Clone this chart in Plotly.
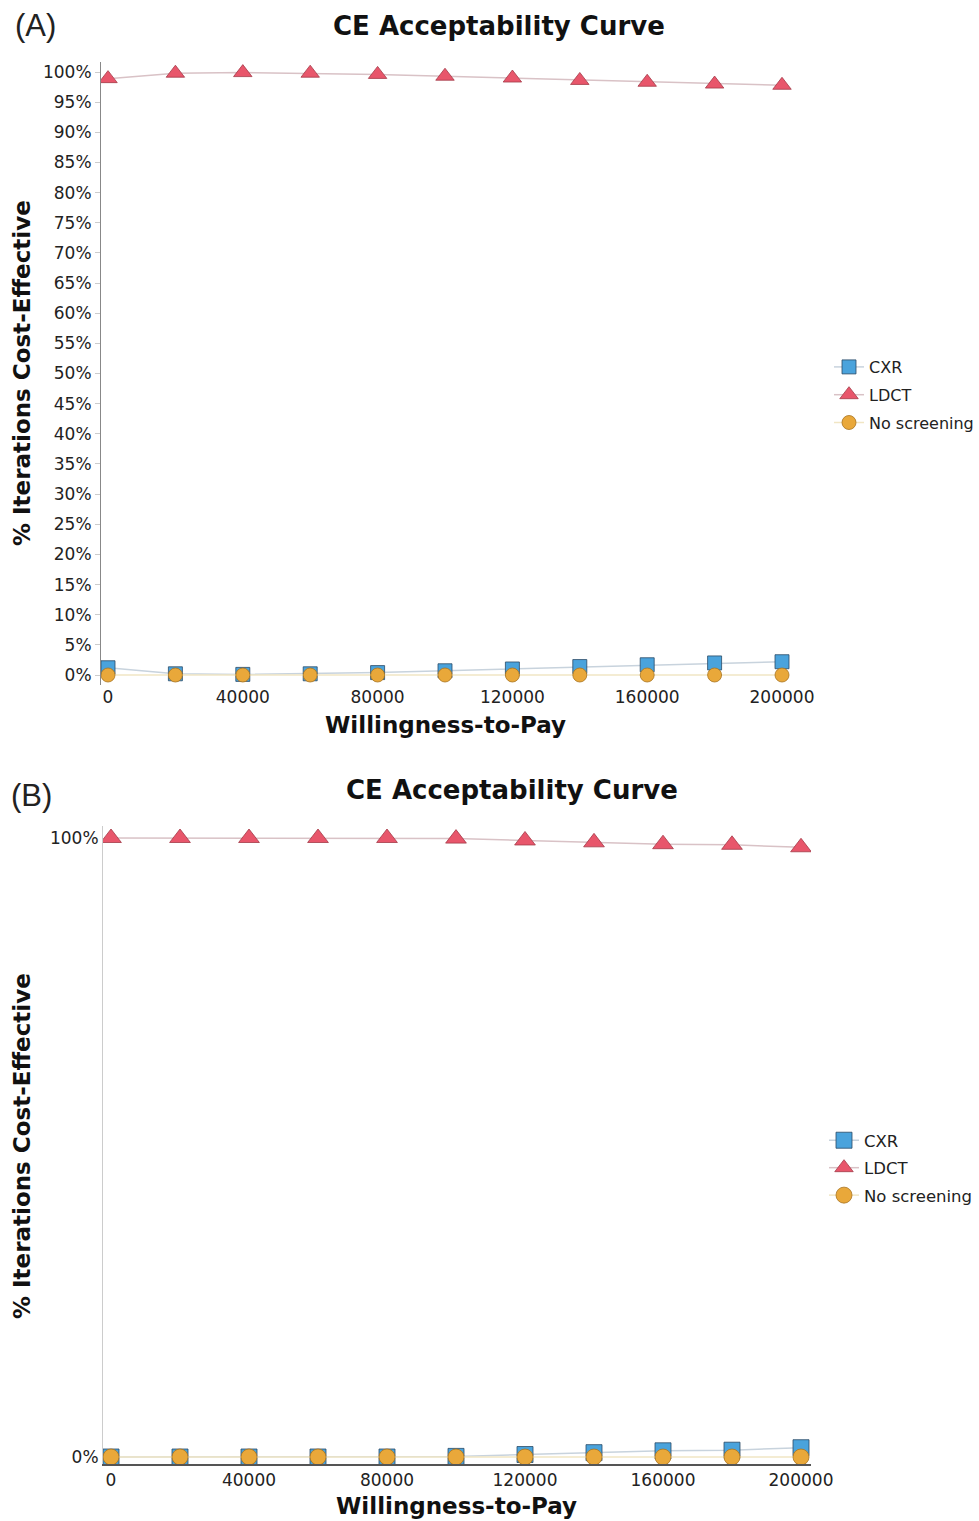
import plotly.graph_objects as go

W, H = 979, 1521

wtp = [0, 20000, 40000, 60000, 80000, 100000, 120000, 140000, 160000, 180000, 200000]

# Panel A values (% iterations cost-effective)
a_cxr = [1.2, 0.2, 0.1, 0.2, 0.4, 0.7, 1.0, 1.4, 1.7, 2.0, 2.2]
a_ldct = [98.9, 99.8, 99.9, 99.8, 99.6, 99.3, 99.0, 98.6, 98.3, 98.0, 97.8]
a_none = [0.0, 0.0, 0.0, 0.0, 0.0, 0.0, 0.0, 0.0, 0.0, 0.0, 0.0]

# Panel B values
b_cxr = [0.0, 0.0, 0.0, 0.0, 0.0, 0.1, 0.4, 0.7, 1.0, 1.1, 1.5]
b_ldct = [100.0, 100.0, 100.0, 100.0, 100.0, 99.9, 99.6, 99.3, 99.0, 98.9, 98.5]
b_none = [0.0, 0.0, 0.0, 0.0, 0.0, 0.0, 0.0, 0.0, 0.0, 0.0, 0.0]

x_ticks = [0, 40000, 80000, 120000, 160000, 200000]
a_yticks = list(range(0, 101, 5))
b_yticks = [0, 100]

names = ["CXR", "LDCT", "No screening"]
mcolors = ["#4aa3dc", "#e8566b", "#e9a83a"]
mline = ["#2b4a66", "#a33a48", "#a87420"]
lcolors = ["#c8d3dd", "#d9c2c6", "#f1e6c4"]
symbols = ["square", "triangle-up", "circle"]

FONT = "DejaVu Sans"

def px(x):
    return x / W

def py(y):
    return 1 - y / H

fig = go.Figure()

sizes_a = [14, 16, 14]
sizes_b = [16, 18, 16]
for i, (vals, nm) in enumerate(zip([a_cxr, a_ldct, a_none], names)):
    fig.add_trace(go.Scatter(
        x=wtp, y=vals, name=nm, mode="lines+markers",
        line=dict(color=lcolors[i], width=1.5),
        marker=dict(symbol=symbols[i], size=sizes_a[i], color=mcolors[i],
                    line=dict(color=mline[i], width=0.8)),
        xaxis="x", yaxis="y", legend="legend", legendgroup="a" + str(i)))
for i, (vals, nm) in enumerate(zip([b_cxr, b_ldct, b_none], names)):
    fig.add_trace(go.Scatter(
        x=wtp, y=vals, name=nm, mode="lines+markers",
        line=dict(color=lcolors[i], width=1.5),
        marker=dict(symbol=symbols[i], size=sizes_b[i], color=mcolors[i],
                    line=dict(color=mline[i], width=0.8)),
        xaxis="x2", yaxis="y2", legend="legend2", legendgroup="b" + str(i)))

tickfont = dict(family=FONT, size=17, color="#222222")

# Panel A axes: x 0->108px, 200000->782px ; y 0%->675px, 100%->72px
ax_l, ax_r = 101, 815
xa0 = 108; xs = (782 - 108) / 200000
ay_t, ay_b = 62, 685
ys = (675 - 72) / 100
# Panel B axes: x 0->111px, 200000->801px ; y 0%->1457, 100%->838
bx_l, bx_r = 103, 811
bx0 = 111; bxs = (801 - 111) / 200000
by0, by100 = 1457, 838
by_t, by_b = 826, 1464
bys = (by0 - by100) / 100

fig.update_layout(
    width=W, height=H,
    margin=dict(l=0, r=0, t=0, b=0, autoexpand=False),
    paper_bgcolor="white", plot_bgcolor="white",
    font=dict(family=FONT, color="#222222"),
    xaxis=dict(domain=[px(ax_l), px(ax_r)],
               range=[(ax_l - xa0) / xs, (ax_r - xa0) / xs],
               tickvals=x_ticks, ticktext=[str(v) for v in x_ticks],
               showgrid=False, zeroline=False, showline=False,
               ticks="", tickfont=tickfont, anchor="y", automargin=False),
    yaxis=dict(domain=[py(ay_b), py(ay_t)],
               range=[-(ay_b - 675) / ys, 100 + (72 - ay_t) / ys],
               tickvals=a_yticks, ticktext=[f"{v}%" for v in a_yticks],
               showgrid=False, zeroline=False, showline=True,
               linecolor="#888888", linewidth=1,
               ticks="outside", ticklen=5, tickcolor="#cccccc",
               tickfont=tickfont, anchor="x", automargin=False),
    xaxis2=dict(domain=[px(bx_l), px(bx_r)],
                range=[(bx_l - bx0) / bxs, (bx_r - bx0) / bxs],
                tickvals=x_ticks, ticktext=[str(v) for v in x_ticks],
                showgrid=False, zeroline=False, showline=True,
                linecolor="#555555", linewidth=1.5,
                ticks="", tickfont=tickfont, anchor="y2", automargin=False),
    yaxis2=dict(domain=[py(by_b), py(by_t)],
                range=[-(by_b - by0) / bys, 100 + (by100 - by_t) / bys],
                tickvals=b_yticks, ticktext=[f"{v}%" for v in b_yticks],
                showgrid=False, zeroline=False, showline=True,
                linecolor="#cccccc", linewidth=1,
                ticks="", tickfont=tickfont, anchor="x2", automargin=False),
    legend=dict(x=px(829), y=py(350), xanchor="left", yanchor="top",
                font=dict(family=FONT, size=16, color="#222222"),
                bgcolor="rgba(0,0,0,0)", tracegroupgap=4, itemsizing="trace"),
    legend2=dict(x=px(824), y=py(1123), xanchor="left", yanchor="top",
                 font=dict(family=FONT, size=16.5, color="#222222"),
                 bgcolor="rgba(0,0,0,0)", tracegroupgap=3, itemsizing="trace"),
    showlegend=True,
)

title_font = dict(family=FONT, size=26, color="#111111", weight="bold")
axt_font = dict(family=FONT, size=23, color="#111111", weight="bold")
lab_font = dict(family="Liberation Sans", size=31, color="#222222")

ann = [
    dict(text="(A)", x=px(35), y=py(25), font=lab_font),
    dict(text="CE Acceptability Curve", x=px(499), y=py(26), font=title_font),
    dict(text="Willingness-to-Pay", x=px(445), y=py(725), font=axt_font),
    dict(text="% Iterations Cost-Effective", x=px(22), y=py(373), font=axt_font, textangle=-90),
    dict(text="(B)", x=px(31), y=py(795), font=lab_font),
    dict(text="CE Acceptability Curve", x=px(512), y=py(790), font=title_font),
    dict(text="Willingness-to-Pay", x=px(456), y=py(1506), font=axt_font),
    dict(text="% Iterations Cost-Effective", x=px(22), y=py(1146), font=axt_font, textangle=-90),
]
for a in ann:
    a.update(xref="paper", yref="paper", showarrow=False, xanchor="center", yanchor="middle")
fig.update_layout(annotations=ann)

fig.write_html("out.html", config={"displayModeBar": False},
               post_script="document.body.style.margin='0';")
